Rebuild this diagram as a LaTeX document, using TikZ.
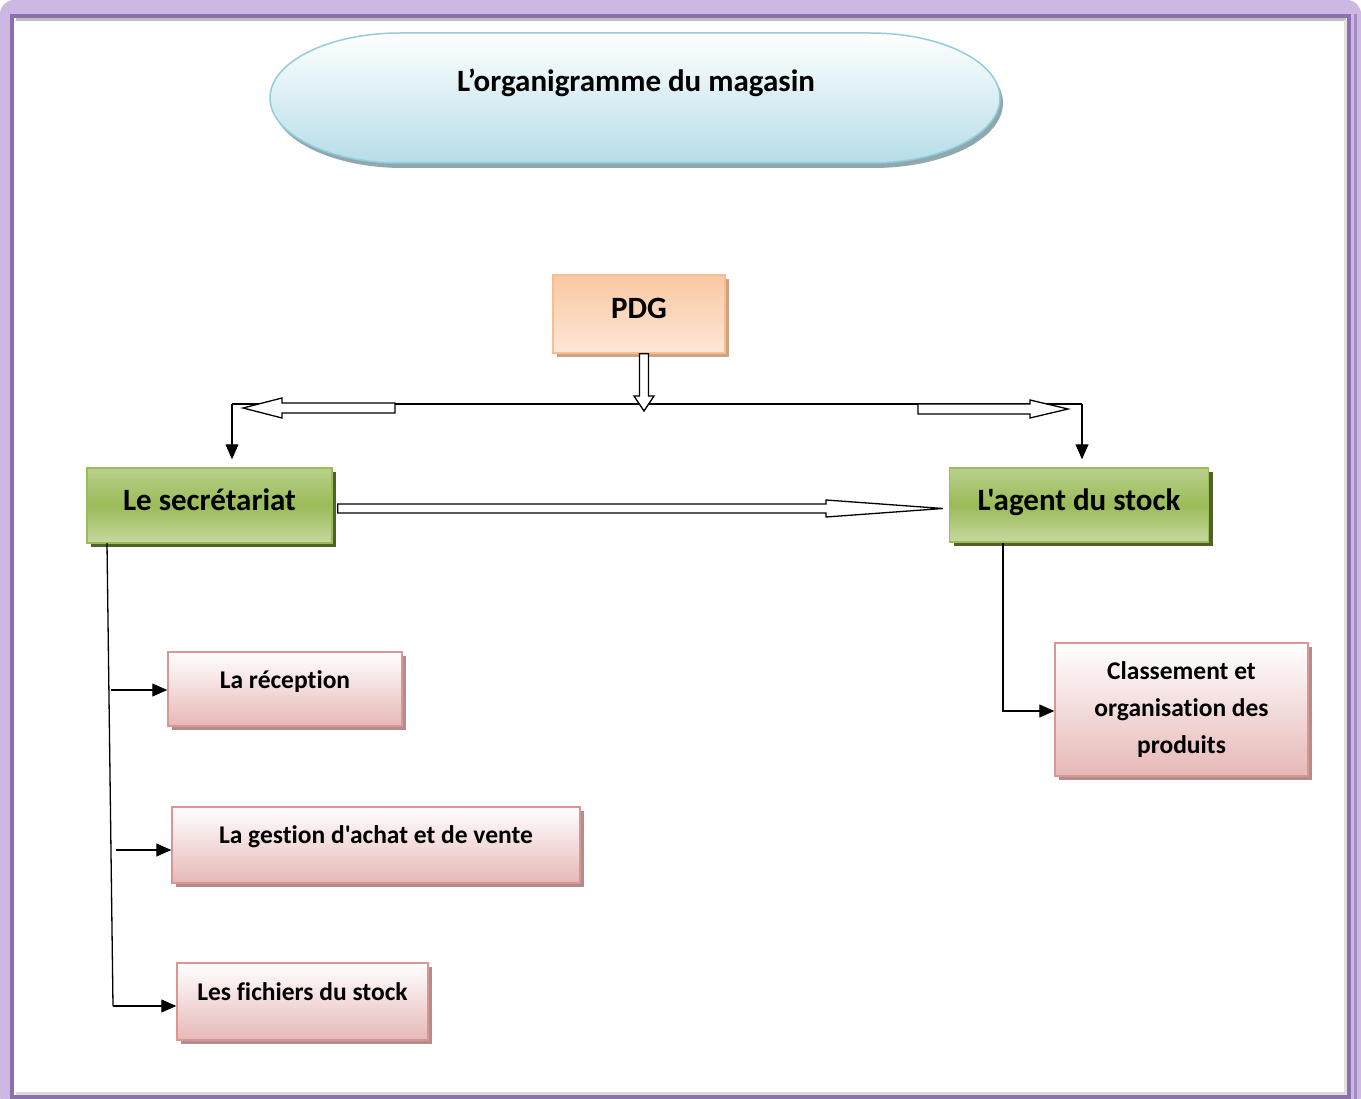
\documentclass[tikz,border=0pt]{standalone}
\usepackage{fontspec}
\setmainfont{Carlito}[Ligatures={TeXOff,NoCommon}]
\usetikzlibrary{arrows.meta,calc,shadows}
\definecolor{lav}{HTML}{CDB8E4}
\definecolor{purp}{HTML}{8B6FAE}
\definecolor{ttop}{HTML}{FFFFFF}
\definecolor{tbot}{HTML}{B6DDE8}
\definecolor{tbrd}{HTML}{92CDDC}
\definecolor{tshd}{HTML}{8FA8AE}
\definecolor{otop}{HTML}{F9C8A2}
\definecolor{obot}{HTML}{FDE6D6}
\definecolor{obrd}{HTML}{F8BE90}
\definecolor{oshd}{HTML}{CDA384}
\definecolor{gtop}{HTML}{B9D08A}
\definecolor{gmid}{HTML}{9BBB59}
\definecolor{gbot}{HTML}{C6D89F}
\definecolor{gbrd}{HTML}{9BBB59}
\definecolor{gshd}{HTML}{4F6228}
\definecolor{pbot}{HTML}{E6B8B7}
\definecolor{pbrd}{HTML}{D99694}
\definecolor{pshd}{HTML}{B38C8C}
\begin{document}
\begin{tikzpicture}[x=1pt,y=-1pt,
  base/.style={draw, rectangle, inner xsep=0pt, inner ysep=0pt, line width=1.5pt, align=center},
  bigtxt/.style={font=\bfseries\fontsize{31}{37}\selectfont},
  smalltxt/.style={font=\bfseries\fontsize{25.5}{37}\selectfont},
  greenbox/.style={base, bigtxt, draw=gbrd, top color=gtop, bottom color=gbot, middle color=gmid,
     drop shadow={shadow xshift=4pt, shadow yshift=-4pt, fill=gshd, opacity=1}},
  orangebox/.style={base, bigtxt, draw=obrd, top color=otop, bottom color=obot,
     drop shadow={shadow xshift=4pt, shadow yshift=-4pt, fill=oshd, opacity=1}},
  pinkbox/.style={base, smalltxt, draw=pbrd, top color=white, bottom color=pbot,
     drop shadow={shadow xshift=4pt, shadow yshift=-4pt, fill=pshd, opacity=1}},
  conn/.style={line width=1.3pt, draw=black},
  arr/.style={conn, -{Triangle[length=15pt,width=13pt]}},
  hollow/.style={draw=black, fill=white, line width=1.3pt, line join=miter}
]
\useasboundingbox (0,0) rectangle (1361,1099);
% frame
\fill[white] (0,0) rectangle (1361,1099);
\fill[lav, rounded corners=14pt] (0,0) rectangle (1361,1110);
\fill[white] (14,18) rectangle (1350,1110);
\draw[purp, line width=4pt] (12,16) -- (12,1097) -- (1349,1097) -- (1349,16) -- cycle;
\draw[purp!80, line width=3pt] (1355,14) -- (1355,1099);
\draw[black!25, line width=3pt] (16,19.5) -- (1346,19.5);
\draw[black!12, line width=3pt] (1345.5,20) -- (1345.5,1094);
\draw[black!15, line width=3pt] (16,1093.5) -- (1346,1093.5);
% title shape
\fill[tshd] (403,38) -- (873,38) arc[start angle=-90,end angle=90,x radius=130,y radius=65] -- (403,168) arc[start angle=90,end angle=270,x radius=130,y radius=65] -- cycle;
\shade[top color=ttop, bottom color=tbot, draw=tbrd, line width=1.5pt] (400,33) -- (870,33) arc[start angle=-90,end angle=90,x radius=130,y radius=65] -- (400,163) arc[start angle=90,end angle=270,x radius=130,y radius=65] -- cycle;
\node[bigtxt, anchor=base] (title) at (636,92) {L’organigramme du magasin};
% nodes
\node[orangebox, minimum width=172pt, text height=44pt, text depth=34pt] (pdg) at (639,314) {PDG};
\node[greenbox, minimum width=245pt, text height=42pt, text depth=33pt] (secr) at (209.5,505.5) {Le secrétariat};
\node[greenbox, minimum width=259pt, text height=42pt, text depth=32pt] (agent) at (1079,505) {L'agent du stock};
\node[pinkbox, minimum width=234pt, text height=36pt, text depth=38pt] (recep) at (285,689) {La réception};
\node[pinkbox, minimum width=408pt, text height=36pt, text depth=40pt] (gest) at (376,845) {La gestion d'achat et de vente};
\node[pinkbox, minimum width=251pt, text height=37pt, text depth=40pt] (fich) at (302.5,1001.5) {Les fichiers du stock};
\node[pinkbox, minimum width=253pt, minimum height=133pt] (class) at (1181.5,709.5) {Classement et\\organisation des\\produits};
% connectors
\coordinate (lc) at (232,404);
\coordinate (rc) at (1082,404);
\draw[conn] (lc) -- (rc);
\draw[arr, shorten >=8pt] (lc) -- (lc |- secr.north);
\draw[arr, shorten >=8pt] (rc) -- (rc |- agent.north);
% hollow arrows
\draw[hollow] (pdg.south -| 639.5,0) -- (639.5,396) -- (634,396) -- (644,411) -- (654,396) -- (648.5,396) -- (pdg.south -| 648.5,0) -- cycle;
\draw[hollow] (395,403) -- (282,403) -- (282,398) -- (243,408) -- (282,418) -- (282,413) -- (395,413) -- cycle;
\draw[hollow] (918,404) -- (1030,404) -- (1030,400) -- (1068,409) -- (1030,418) -- (1030,414) -- (918,414) -- cycle;
\draw[hollow] ($(secr.east)+(5,-1.5)$) -- (826,504) -- (826,500) -- ($(agent.west)+(-6,3.5)$) -- (826,517) -- (826,513) -- ($(secr.east)+(5,7.5)$) -- cycle;
% left tree
\coordinate (s0) at (107,543);
\coordinate (s1) at (113,1006);
\draw[conn] (s0) -- (s1);
\draw[arr] (s1) -- (fich.west |- s1);
\draw[arr] (110.5,690) -- (recep.west |- 0,690);
\draw[arr] (116,850) -- (gest.west |- 0,850);
% right tree
\draw[arr] (agent.south -| 1003,0) |- (class.west |- 0,711);
\end{tikzpicture}
\end{document}
